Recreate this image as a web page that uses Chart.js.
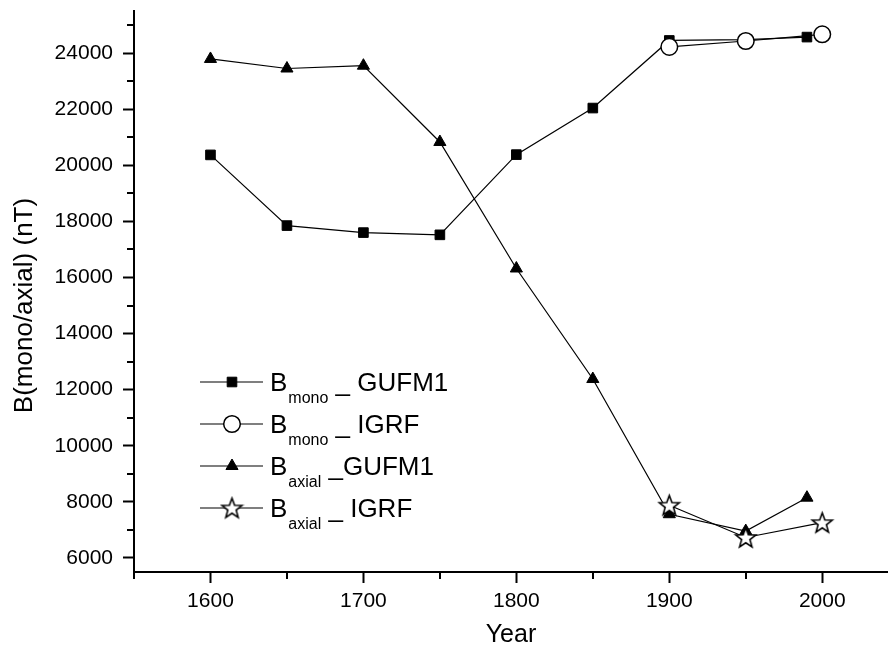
<!DOCTYPE html>
<html>
<head>
<meta charset="utf-8">
<title>B mono / axial</title>
<script src="https://cdn.jsdelivr.net/npm/chart.js"></script>
<style>
  html, body { margin: 0; padding: 0; background: #fff; overflow: hidden; }
  #wrap { width: 888px; height: 656px; position: relative; }
</style>
</head>
<body>
<div id="wrap"><canvas id="campoChart"></canvas></div>
<script>
// GUFM1 epochs and field values (nT)
const gufmYears = [1600, 1650, 1700, 1750, 1800, 1850, 1900, 1950, 1990];
const bMonoGufm = [20370, 17850, 17600, 17520, 20380, 22040, 24450, 24480, 24570];
const bAxialGufm = [23790, 23450, 23550, 20830, 16320, 12380, 7560, 6960, 8150];

// IGRF epochs and field values (nT)
const igrfYears = [1900, 1950, 2000];
const bMonoIgrf = [24220, 24430, 24670];
const bAxialIgrf = [7880, 6730, 7260];

// ejes
const xTicks = [1600, 1700, 1800, 1900, 2000];
const xMinorTicks = [1550, 1650, 1750, 1850, 1950];
const yTicks = [6000, 8000, 10000, 12000, 14000, 16000, 18000, 20000, 22000, 24000];
const yMinorTicks = [7000, 9000, 11000, 13000, 15000, 17000, 19000, 21000, 23000, 25000];
const yTitle = 'B(mono/axial) (nT)';

// leyenda: B + subindice + resto
const legendMain = ['B', 'B', 'B', 'B'];
const legendSub = ['mono', 'mono', 'axial', 'axial'];
const legendRest = [' _ GUFM1', ' _ IGRF', ' _GUFM1', ' _ IGRF'];

const FONT = "'Liberation Sans', Arial, sans-serif";

function toPoints(xs, ys) {
    return xs.map((x, i) => ({ x: x, y: ys[i] }));
}

// estrella de 5 puntas (Chart.js 'star' no es una estrella rellena)
function makeStar(r) {
    const s = Math.ceil(r * 2 + 4);
    const c = document.createElement('canvas');
    c.width = s; c.height = s;
    const g = c.getContext('2d');
    const cx = s / 2, cy = s / 2 + 0.8;
    g.beginPath();
    for (let i = 0; i < 10; i++) {
        const rad = i % 2 === 0 ? r : r * 0.42;
        const a = -Math.PI / 2 + i * Math.PI / 5;
        const px = cx + rad * Math.cos(a), py = cy + rad * Math.sin(a);
        if (i === 0) g.moveTo(px, py); else g.lineTo(px, py);
    }
    g.closePath();
    g.fillStyle = '#fff';
    g.fill();
    g.lineWidth = 1.6;
    g.strokeStyle = '#000';
    g.stroke();
    return c;
}
const starImg = makeStar(10.5);

const seriesStyles = [
    { pointStyle: 'rect', pointRadius: 6.8, bg: '#000', bw: 1 },
    { pointStyle: 'circle', pointRadius: 8.3, bg: '#fff', bw: 1.5 },
    { pointStyle: 'triangle', pointRadius: 7, bg: '#000', bw: 1 },
    { pointStyle: starImg, pointRadius: 10, bg: '#fff', bw: 1 }
];

function makeDataset(xs, ys, st, order) {
    return {
        data: toPoints(xs, ys),
        borderColor: '#000',
        borderWidth: 1.2,
        tension: 0,
        fill: false,
        pointStyle: st.pointStyle,
        pointRadius: st.pointRadius,
        pointBackgroundColor: st.bg,
        pointBorderColor: '#000',
        pointBorderWidth: st.bw,
        order: order
    };
}

// ticks secundarios + titulo del eje Y (un poco por debajo del centro, como en el original)
const axisExtras = {
    id: 'axisExtras',
    afterDraw(chart) {
        const { ctx, chartArea } = chart;
        const x = chart.scales.x, y = chart.scales.y;
        ctx.save();
        ctx.strokeStyle = '#000';
        ctx.lineWidth = 2;
        ctx.beginPath();
        xMinorTicks.forEach(v => {
            const px = Math.round(x.getPixelForValue(v));
            ctx.moveTo(px, chartArea.bottom);
            ctx.lineTo(px, chartArea.bottom + 7);
        });
        yMinorTicks.forEach(v => {
            const py = Math.round(y.getPixelForValue(v));
            ctx.moveTo(chartArea.left, py);
            ctx.lineTo(chartArea.left - 7, py);
        });
        ctx.stroke();

        ctx.translate(25, (chartArea.top + chartArea.bottom) / 2 + 14);
        ctx.rotate(-Math.PI / 2);
        ctx.font = '26px ' + FONT;
        ctx.fillStyle = '#000';
        ctx.textAlign = 'center';
        ctx.textBaseline = 'middle';
        ctx.fillText(yTitle, 0, 0);
        ctx.restore();
    }
};

// leyenda con subindices
const legendBox = {
    id: 'legendBox',
    afterDraw(chart) {
        const ctx = chart.ctx;
        const x0 = 200, x1 = 263, top = 382, step = 42;
        ctx.save();
        legendMain.forEach((txt, i) => {
            const cy = top + i * step;
            const st = seriesStyles[i];
            ctx.strokeStyle = '#000';
            ctx.lineWidth = 1.2;
            ctx.beginPath();
            ctx.moveTo(x0, cy);
            ctx.lineTo(x1, cy);
            ctx.stroke();
            ctx.fillStyle = st.bg;
            ctx.strokeStyle = '#000';
            ctx.lineWidth = st.bw;
            Chart.helpers.drawPoint(ctx, { pointStyle: st.pointStyle, radius: st.pointRadius, rotation: 0, borderWidth: st.bw }, Math.round((x0 + x1) / 2), cy);

            ctx.fillStyle = '#000';
            ctx.textBaseline = 'alphabetic';
            ctx.textAlign = 'left';
            let tx = 270;
            const base = cy + 9;
            ctx.font = '26px ' + FONT;
            ctx.fillText(txt, tx, base);
            tx += ctx.measureText(txt).width;
            ctx.font = '16px ' + FONT;
            ctx.fillText(legendSub[i], tx + 1, base + 12);
            tx += ctx.measureText(legendSub[i]).width + 1;
            ctx.font = '26px ' + FONT;
            ctx.fillText(legendRest[i], tx, base);
        });
        ctx.restore();
    }
};

function initChart() {
    new Chart(document.getElementById('campoChart'), {
        type: 'line',
        data: {
            datasets: [
                makeDataset(gufmYears, bMonoGufm, seriesStyles[0], 4),
                makeDataset(igrfYears, bMonoIgrf, seriesStyles[1], 2),
                makeDataset(gufmYears, bAxialGufm, seriesStyles[2], 3),
                makeDataset(igrfYears, bAxialIgrf, seriesStyles[3], 1)
            ]
        },
        options: {
            responsive: true,
            maintainAspectRatio: false,
            animation: false,
            layout: { autoPadding: false, padding: { top: 11, right: 0, left: 0, bottom: 0 } },
            plugins: {
                legend: { display: false },
                tooltip: { enabled: false }
            },
            scales: {
                x: {
                    type: 'linear',
                    min: 1550,
                    max: 2043,
                    afterBuildTicks: s => { s.ticks = xTicks.map(v => ({ value: v })); },
                    afterFit: s => { s.height = 84; s.paddingLeft = 0; s.paddingRight = 0; },
                    ticks: {
                        autoSkip: false,
                        maxRotation: 0,
                        padding: 6,
                        color: '#000',
                        font: { family: FONT, size: 21 },
                        callback: v => String(v)
                    },
                    grid: { display: true, drawOnChartArea: false, drawTicks: true, tickLength: 11, tickWidth: 2, tickColor: '#000' },
                    border: { display: true, color: '#000', width: 2 },
                    title: { display: true, text: 'Year', color: '#000', font: { family: FONT, size: 25 }, padding: { top: 0, bottom: 6 } }
                },
                y: {
                    type: 'linear',
                    min: 5500,
                    max: 25500,
                    afterBuildTicks: s => { s.ticks = yTicks.map(v => ({ value: v })); },
                    afterFit: s => { s.width = 134; s.paddingTop = 0; s.paddingBottom = 0; },
                    ticks: {
                        autoSkip: false,
                        padding: 10,
                        color: '#000',
                        font: { family: FONT, size: 21 },
                        callback: v => String(v)
                    },
                    grid: { display: true, drawOnChartArea: false, drawTicks: true, tickLength: 11, tickWidth: 2, tickColor: '#000' },
                    border: { display: true, color: '#000', width: 2 },
                    title: { display: false }
                }
            }
        },
        plugins: [axisExtras, legendBox]
    });
}

document.addEventListener('DOMContentLoaded', initChart);
</script>
</body>
</html>
